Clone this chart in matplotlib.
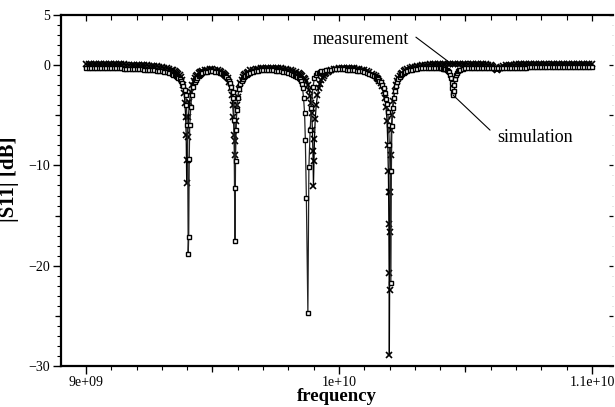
import matplotlib
matplotlib.use('Agg')
import matplotlib.pyplot as plt
from matplotlib.ticker import MultipleLocator, FixedLocator, FuncFormatter, NullFormatter

plt.rcParams['font.family'] = ['Liberation Serif', 'DejaVu Serif']

meas_points = [
    (9.00, 0.10), (9.01, 0.11), (9.02, 0.12), (9.03, 0.12), (9.04, 0.12), (9.05, 0.12), (9.06, 0.12),
    (9.07, 0.11), (9.08, 0.11), (9.09, 0.10), (9.10, 0.10), (9.11, 0.10), (9.12, 0.10), (9.13, 0.09),
    (9.14, 0.08), (9.15, 0.07), (9.16, 0.06), (9.17, 0.05), (9.18, 0.04), (9.19, 0.03), (9.20, 0.02),
    (9.21, 0.01), (9.22, 0.00), (9.23, -0.01), (9.24, -0.03), (9.25, -0.05), (9.26, -0.07), (9.27, -0.09),
    (9.28, -0.12), (9.29, -0.16), (9.30, -0.20), (9.31, -0.25), (9.32, -0.30), (9.33, -0.37), (9.34, -0.45),
    (9.345, -0.51), (9.35, -0.58), (9.355, -0.66), (9.36, -0.75), (9.365, -0.86), (9.37, -1.0),
    (9.375, -1.2), (9.38, -1.5), (9.384, -2.0), (9.388, -2.8), (9.391, -3.8), (9.394, -5.2),
    (9.396, -7.0), (9.398, -11.8), (9.400, -9.5), (9.402, -7.2), (9.405, -5.2), (9.409, -3.7),
    (9.414, -2.7), (9.42, -2.0), (9.425, -1.6), (9.43, -1.3), (9.435, -1.1), (9.44, -0.95),
    (9.445, -0.82), (9.45, -0.72), (9.455, -0.64), (9.46, -0.58), (9.47, -0.50), (9.48, -0.45),
    (9.49, -0.42), (9.50, -0.42), (9.51, -0.45), (9.52, -0.50), (9.53, -0.60), (9.535, -0.67),
    (9.54, -0.75), (9.545, -0.85), (9.55, -0.98), (9.555, -1.12), (9.56, -1.3), (9.566, -1.7),
    (9.572, -2.3), (9.576, -3.0), (9.58, -4.0), (9.583, -5.2), (9.586, -7.0), (9.588, -9.0),
    (9.590, -7.6), (9.593, -5.6), (9.597, -4.0), (9.60, -3.2), (9.605, -2.4), (9.61, -1.8),
    (9.615, -1.45), (9.62, -1.2), (9.625, -1.0), (9.63, -0.85), (9.635, -0.74), (9.64, -0.65),
    (9.65, -0.53), (9.66, -0.45), (9.67, -0.39), (9.68, -0.35), (9.69, -0.32), (9.70, -0.30),
    (9.71, -0.28), (9.72, -0.27), (9.73, -0.27), (9.74, -0.27), (9.75, -0.28), (9.76, -0.30),
    (9.77, -0.32), (9.78, -0.35), (9.79, -0.40), (9.80, -0.45), (9.81, -0.52), (9.82, -0.60),
    (9.83, -0.70), (9.84, -0.82), (9.845, -0.90), (9.85, -1.0), (9.855, -1.12), (9.86, -1.25),
    (9.865, -1.42), (9.87, -1.6), (9.876, -1.95), (9.882, -2.5), (9.886, -3.1), (9.889, -3.8),
    (9.892, -4.8), (9.895, -6.5), (9.897, -8.6), (9.899, -12.1), (9.901, -9.6), (9.903, -7.4),
    (9.906, -5.4), (9.91, -4.0), (9.915, -3.0), (9.92, -2.3), (9.925, -1.85), (9.93, -1.5),
    (9.935, -1.25), (9.94, -1.05), (9.945, -0.92), (9.95, -0.80), (9.955, -0.70), (9.96, -0.62),
    (9.97, -0.50), (9.98, -0.42), (9.99, -0.36), (10.00, -0.32), (10.01, -0.29), (10.02, -0.27),
    (10.03, -0.26), (10.04, -0.26), (10.05, -0.28), (10.06, -0.30), (10.07, -0.34), (10.08, -0.38),
    (10.09, -0.44), (10.10, -0.50), (10.11, -0.59), (10.12, -0.70), (10.13, -0.84), (10.14, -1.0),
    (10.145, -1.12), (10.15, -1.25), (10.155, -1.42), (10.16, -1.6), (10.165, -1.83), (10.17, -2.1),
    (10.176, -2.6), (10.182, -3.3), (10.186, -4.2), (10.19, -5.6), (10.193, -8.0), (10.195, -10.6),
    (10.196, -12.6), (10.197, -15.8), (10.198, -20.7), (10.199, -28.9), (10.200, -22.4),
    (10.201, -16.6), (10.202, -12.6), (10.204, -9.0), (10.207, -6.5), (10.21, -5.0), (10.215, -3.6),
    (10.22, -2.6), (10.225, -2.0), (10.23, -1.6), (10.235, -1.3), (10.24, -1.05), (10.245, -0.88),
    (10.25, -0.75), (10.255, -0.62), (10.26, -0.52), (10.27, -0.40), (10.28, -0.30), (10.29, -0.22),
    (10.30, -0.15), (10.31, -0.10), (10.32, -0.05), (10.33, -0.01), (10.34, 0.02), (10.35, 0.05),
    (10.36, 0.07), (10.37, 0.09), (10.38, 0.10), (10.39, 0.11), (10.40, 0.12), (10.41, 0.13),
    (10.42, 0.14), (10.43, 0.14), (10.44, 0.15), (10.45, 0.15), (10.46, 0.16), (10.47, 0.16),
    (10.48, 0.15), (10.49, 0.15), (10.50, 0.14), (10.51, 0.14), (10.52, 0.13), (10.53, 0.13),
    (10.54, 0.12), (10.55, 0.11), (10.56, 0.10), (10.57, 0.09), (10.58, 0.08), (10.59, 0.06),
    (10.60, 0.02), (10.605, -0.05), (10.61, -0.15), (10.615, -0.25), (10.62, -0.35), (10.625, -0.45),
    (10.63, -0.35), (10.635, -0.25), (10.64, -0.15), (10.65, -0.05), (10.66, 0.00), (10.67, 0.03),
    (10.68, 0.05), (10.69, 0.06), (10.70, 0.07), (10.71, 0.07), (10.72, 0.08), (10.73, 0.08),
    (10.74, 0.09), (10.75, 0.09), (10.76, 0.10), (10.77, 0.10), (10.78, 0.10), (10.79, 0.10),
    (10.80, 0.10), (10.81, 0.11), (10.82, 0.11), (10.83, 0.11), (10.84, 0.11), (10.85, 0.12),
    (10.86, 0.12), (10.87, 0.12), (10.88, 0.12), (10.89, 0.12), (10.90, 0.12), (10.91, 0.13),
    (10.92, 0.13), (10.93, 0.13), (10.94, 0.13), (10.95, 0.13), (10.96, 0.13), (10.97, 0.13),
    (10.98, 0.13), (10.99, 0.13), (11.00, 0.13),
]

# simulated |S11|: (frequency in GHz, value in dB)
sim_points = [
    (9.00, -0.28), (9.01, -0.28), (9.02, -0.28), (9.03, -0.28), (9.04, -0.29), (9.05, -0.29),
    (9.06, -0.30), (9.07, -0.30), (9.08, -0.30), (9.09, -0.31), (9.10, -0.31), (9.11, -0.32),
    (9.12, -0.32), (9.13, -0.33), (9.14, -0.33), (9.15, -0.34), (9.16, -0.35), (9.17, -0.36),
    (9.18, -0.37), (9.19, -0.38), (9.20, -0.39), (9.21, -0.40), (9.22, -0.42), (9.23, -0.44),
    (9.24, -0.46), (9.25, -0.48), (9.26, -0.50), (9.27, -0.53), (9.28, -0.56), (9.29, -0.59),
    (9.30, -0.63), (9.31, -0.68), (9.32, -0.73), (9.33, -0.80), (9.34, -0.88), (9.345, -0.94),
    (9.35, -1.0), (9.355, -1.07), (9.36, -1.15), (9.365, -1.25), (9.37, -1.38), (9.375, -1.55),
    (9.38, -1.75), (9.385, -2.05), (9.39, -2.5), (9.394, -3.0), (9.397, -4.0), (9.400, -6.0),
    (9.402, -9.5), (9.404, -18.8), (9.406, -17.1), (9.408, -9.4), (9.410, -6.0), (9.414, -4.2),
    (9.418, -3.0), (9.424, -2.2), (9.43, -1.7), (9.435, -1.45), (9.44, -1.25), (9.445, -1.1),
    (9.45, -0.98), (9.455, -0.90), (9.46, -0.82), (9.47, -0.72), (9.48, -0.66), (9.49, -0.63),
    (9.50, -0.63), (9.51, -0.65), (9.52, -0.70), (9.53, -0.78), (9.535, -0.83), (9.54, -0.90),
    (9.545, -0.99), (9.55, -1.1), (9.555, -1.22), (9.56, -1.35), (9.565, -1.55), (9.57, -1.8),
    (9.575, -2.15), (9.58, -2.7), (9.583, -3.3), (9.585, -5.5), (9.587, -12.3), (9.589, -17.5),
    (9.591, -9.6), (9.593, -6.5), (9.596, -4.5), (9.60, -3.3), (9.605, -2.4), (9.61, -1.9),
    (9.615, -1.6), (9.62, -1.35), (9.625, -1.18), (9.63, -1.05), (9.635, -0.94), (9.64, -0.85),
    (9.65, -0.74), (9.66, -0.65), (9.67, -0.59), (9.68, -0.55), (9.69, -0.52), (9.70, -0.50),
    (9.71, -0.50), (9.72, -0.50), (9.73, -0.51), (9.74, -0.52), (9.75, -0.54), (9.76, -0.57),
    (9.77, -0.61), (9.78, -0.65), (9.79, -0.71), (9.80, -0.78), (9.81, -0.87), (9.82, -0.98),
    (9.825, -1.05), (9.83, -1.12), (9.835, -1.2), (9.84, -1.3), (9.845, -1.42), (9.85, -1.55),
    (9.853, -1.9), (9.856, -2.3), (9.860, -3.3), (9.864, -4.8), (9.867, -7.5), (9.871, -13.2),
    (9.877, -24.7), (9.881, -10.2), (9.886, -6.5), (9.890, -4.3), (9.897, -2.2), (9.903, -1.3),
    (9.91, -0.95), (9.915, -0.83), (9.92, -0.75), (9.925, -0.68), (9.93, -0.62), (9.94, -0.55),
    (9.95, -0.50), (9.96, -0.47), (9.97, -0.45), (9.98, -0.43), (9.99, -0.42), (10.00, -0.42),
    (10.01, -0.42), (10.02, -0.43), (10.03, -0.44), (10.04, -0.46), (10.05, -0.48), (10.06, -0.50),
    (10.07, -0.54), (10.08, -0.58), (10.09, -0.63), (10.10, -0.68), (10.11, -0.76), (10.12, -0.85),
    (10.13, -0.96), (10.14, -1.1), (10.145, -1.2), (10.15, -1.3), (10.155, -1.42), (10.16, -1.55),
    (10.165, -1.73), (10.17, -1.95), (10.176, -2.3), (10.182, -2.8), (10.187, -3.4), (10.19, -3.9),
    (10.193, -4.7), (10.196, -6.0), (10.199, -8.0), (10.202, -10.6), (10.205, -21.7), (10.207, -10.6),
    (10.209, -6.1), (10.212, -4.3), (10.216, -3.3), (10.22, -2.6), (10.225, -2.1), (10.23, -1.7),
    (10.235, -1.42), (10.24, -1.2), (10.245, -1.03), (10.25, -0.90), (10.255, -0.79), (10.26, -0.70),
    (10.27, -0.58), (10.28, -0.50), (10.29, -0.44), (10.30, -0.40), (10.31, -0.36), (10.32, -0.33),
    (10.33, -0.31), (10.34, -0.30), (10.35, -0.29), (10.36, -0.28), (10.37, -0.28), (10.38, -0.28),
    (10.39, -0.29), (10.40, -0.30), (10.405, -0.32), (10.41, -0.35), (10.415, -0.38), (10.42, -0.42),
    (10.425, -0.48), (10.43, -0.55), (10.435, -0.70), (10.44, -0.95), (10.443, -1.3), (10.446, -1.8),
    (10.448, -2.3), (10.450, -2.8), (10.452, -3.0), (10.454, -2.6), (10.456, -2.0), (10.459, -1.4),
    (10.463, -0.95), (10.467, -0.75), (10.47, -0.62), (10.475, -0.52), (10.48, -0.45), (10.49, -0.38),
    (10.50, -0.33), (10.51, -0.30), (10.52, -0.28), (10.53, -0.27), (10.54, -0.26), (10.55, -0.25),
    (10.56, -0.25), (10.57, -0.25), (10.58, -0.25), (10.59, -0.25), (10.60, -0.25), (10.61, -0.25),
    (10.62, -0.25), (10.63, -0.25), (10.64, -0.25), (10.65, -0.25), (10.66, -0.25), (10.67, -0.25),
    (10.68, -0.25), (10.69, -0.25), (10.70, -0.25), (10.71, -0.25), (10.72, -0.24), (10.73, -0.24),
    (10.74, -0.24), (10.75, -0.23), (10.76, -0.23), (10.77, -0.23), (10.78, -0.23), (10.79, -0.22),
    (10.80, -0.22), (10.81, -0.22), (10.82, -0.22), (10.83, -0.21), (10.84, -0.21), (10.85, -0.21),
    (10.86, -0.21), (10.87, -0.20), (10.88, -0.20), (10.89, -0.20), (10.90, -0.20), (10.91, -0.20),
    (10.92, -0.20), (10.93, -0.20), (10.94, -0.20), (10.95, -0.20), (10.96, -0.20), (10.97, -0.20),
    (10.98, -0.20), (10.99, -0.20), (11.00, -0.20),
]

meas_hz = [f * 1e9 for f, v in meas_points]
meas_db = [v for f, v in meas_points]
sim_hz = [f * 1e9 for f, v in sim_points]
sim_db = [v for f, v in sim_points]

fig = plt.figure(figsize=(6.15, 4.07), dpi=100)
ax = fig.add_axes([61 / 615, 41 / 407, 552 / 615, 351 / 407])

ax.plot(meas_hz, meas_db, color='black', lw=0.9, marker='x', ms=3.8, mew=1.2)
ax.plot(sim_hz, sim_db, color='#222222', lw=0.9, marker='s', ms=3.2, mfc='white', mec='black', mew=1.0)

ax.set_xlim(8.9012e9, 11.083e9)
ax.set_ylim(-30, 5)

# frame
for side in ['left', 'bottom', 'top']:
    ax.spines[side].set_linewidth(1.6)
ax.spines['right'].set_visible(False)

# bottom / left ticks
ax.xaxis.set_major_locator(FixedLocator([9e9, 1e10, 1.1e10]))
ax.xaxis.set_minor_locator(MultipleLocator(0.1e9))
ax.xaxis.set_major_formatter(FuncFormatter(lambda v, p: '%g' % v))
ax.yaxis.set_major_locator(FixedLocator([-30, -20, -10, 0, 5]))
ax.yaxis.set_minor_locator(MultipleLocator(1))
ax.tick_params(which='major', direction='out', length=6, width=1, labelsize=10)
ax.tick_params(axis='x', which='major', pad=1.5)
ax.tick_params(axis='y', which='major', pad=2)
ax.tick_params(which='minor', direction='out', length=3, width=0.8)

# medium ticks at the half steps
mid_x = ax.secondary_xaxis('bottom')
mid_x.xaxis.set_major_locator(FixedLocator([9.5e9, 10.5e9]))
mid_x.xaxis.set_major_formatter(NullFormatter())
mid_x.tick_params(direction='out', length=4.5, width=0.9)
mid_y = ax.secondary_yaxis('left')
mid_y.yaxis.set_major_locator(FixedLocator([-25, -15, -5]))
mid_y.yaxis.set_major_formatter(NullFormatter())
mid_y.tick_params(direction='out', length=4.5, width=0.9)

# top and right inner ticks
top = ax.secondary_xaxis('top')
top.xaxis.set_major_locator(MultipleLocator(0.5e9))
top.xaxis.set_minor_locator(MultipleLocator(0.1e9))
top.xaxis.set_major_formatter(NullFormatter())
top.tick_params(which='major', direction='in', length=4.5, width=0.9)
top.tick_params(which='minor', direction='in', length=3.5, width=0.8)
right = ax.secondary_yaxis('right')
right.yaxis.set_major_locator(MultipleLocator(5))
right.yaxis.set_minor_locator(MultipleLocator(1))
right.yaxis.set_major_formatter(NullFormatter())
right.tick_params(which='major', direction='in', length=3, width=0.9)
right.tick_params(which='minor', direction='in', length=1, width=0.5, color='#bbbbbb')
for sec in [mid_x, mid_y, top, right]:
    for s in sec.spines.values():
        s.set_visible(False)

ax.set_xlabel('frequency', fontsize=13.5, fontweight='bold', labelpad=-1)
ax.set_ylabel('|S11| [dB]', fontsize=15, fontweight='bold')
ax.yaxis.set_label_coords(-0.076, 0.533)

# labels pointing at the curves
ax.text(10.087e9, 2.6, 'measurement', fontsize=13, ha='center', va='center')
ax.annotate('', xy=(10.435e9, 0.3), xytext=(10.304e9, 2.79),
            arrowprops=dict(arrowstyle='-', lw=0.8, color='black', shrinkA=0, shrinkB=0))
ax.text(10.625e9, -7.2, 'simulation', fontsize=13, ha='left', va='center')
ax.annotate('', xy=(10.451e9, -2.99), xytext=(10.597e9, -6.48),
            arrowprops=dict(arrowstyle='-', lw=0.8, color='black', shrinkA=0, shrinkB=0))

fig.savefig('out.png', dpi=100)
